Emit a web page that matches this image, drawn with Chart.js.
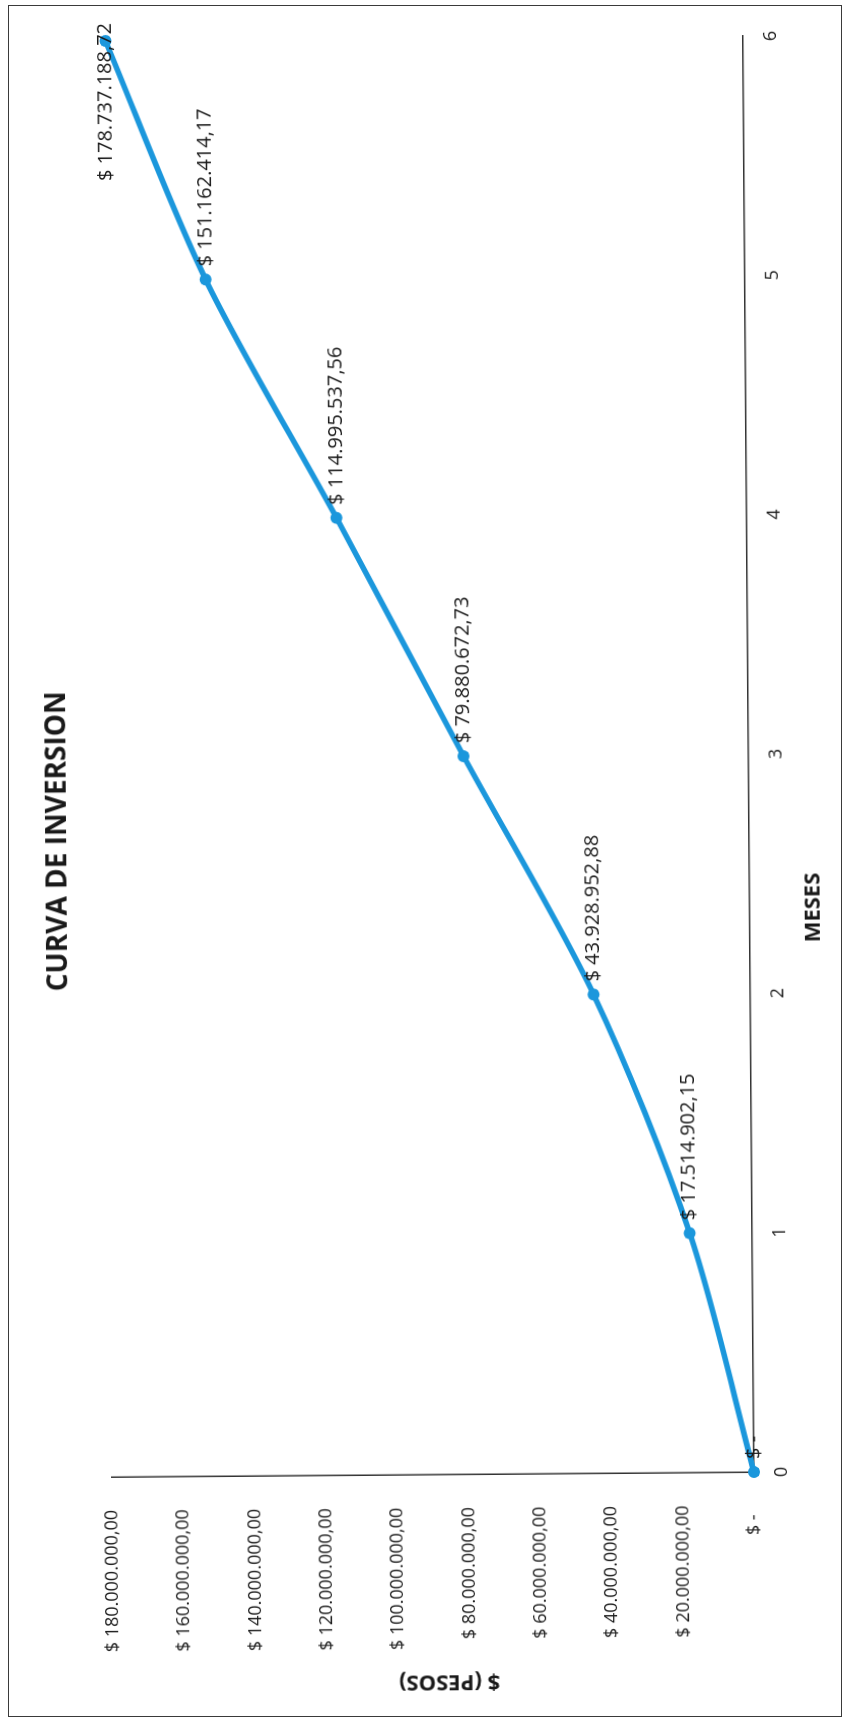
<!DOCTYPE html>
<html>
<head>
<meta charset="utf-8">
<script src="https://cdn.jsdelivr.net/npm/chart.js@4.4.1/dist/chart.umd.min.js"></script>
<style>
  html, body { margin: 0; padding: 0; background: #fff; }
  #page { position: relative; width: 846px; height: 1720px; overflow: hidden; }
  #marco { position: absolute; left: 8px; top: 5px; width: 834px; height: 1712px; border: 1.5px solid #3a3a3a; box-sizing: border-box; }
  /* the scan is turned a bit, so the whole chart is tilted too */
  #tilt { position: absolute; left: 0; top: 0; width: 846px; height: 1720px; transform-origin: 754px 1472px; transform: rotate(-0.44deg); }
  /* chart is drawn landscape and turned to read bottom-to-top */
  #giro { position: absolute; left: 0; top: 0; width: 1720px; height: 846px; transform-origin: 0 0; transform: translateY(1720px) rotate(-90deg); }
</style>
</head>
<body>
<div id="page">
  <div id="marco"></div>
  <div id="tilt">
    <div id="giro">
      <canvas id="grafica" width="1720" height="846"></canvas>
    </div>
  </div>
</div>
<script>
const titulo = 'CURVA DE INVERSION';
const tituloX = 'MESES';
const tituloY = '$ (PESOS)';
const meses = [0, 1, 2, 3, 4, 5, 6];
const valores = [0, 17514902.15, 43928952.88, 79880672.73, 114995537.56, 151162414.17, 178737188.72];
const ejeYMax = 180000000;
const ejeYPaso = 20000000;

const azul = '#1b97dc';
const texto = '#1a1a1a';

// 178737188.72 -> "$ 178.737.188,72"
function pesos(v) {
    if (v === 0) return '$ -';
    const [ent, dec] = v.toFixed(2).split('.');
    return '$ ' + ent.replace(/\B(?=(\d{3})+(?!\d))/g, '.') + ',' + dec;
}

// data labels + titles, placed like the excel sheet
const textos = {
    id: 'textos',
    afterDatasetsDraw(chart) {
        const ctx = chart.ctx;
        const puntos = chart.getDatasetMeta(0).data;
        ctx.save();
        ctx.fillStyle = texto;
        ctx.font = '20px "Open Sans"';
        ctx.textAlign = 'left';
        ctx.textBaseline = 'middle';
        puntos.forEach((p, i) => {
            const t = pesos(valores[i]);
            const w = ctx.measureText(t).width;
            let x = p.x + 13;
            if (x + w > 1702) x = 1702 - w;  // last one gets pushed back inside
            ctx.fillText(t, x, p.y);
        });
        ctx.restore();
    },
    afterDraw(chart) {
        const ctx = chart.ctx;
        ctx.save();
        ctx.fillStyle = texto;
        ctx.textAlign = 'center';
        ctx.textBaseline = 'middle';

        ctx.font = 'bold 28px "Open Sans"';
        ctx.fillText(titulo, 884, 63);

        ctx.font = 'bold 22px "Open Sans"';
        ctx.fillText(tituloX, 812, 818);

        ctx.translate(41, 448);
        ctx.rotate(-Math.PI / 2);
        ctx.fillText(tituloY, 0, 0);
        ctx.restore();
    }
};

new Chart(document.getElementById('grafica'), {
    type: 'line',
    data: {
        datasets: [{
            data: meses.map((m, i) => ({ x: m, y: valores[i] })),
            borderColor: azul,
            backgroundColor: azul,
            borderWidth: 5.5,
            pointRadius: 6,
            pointBorderWidth: 0,
            tension: 0.3,
            fill: false,
            clip: false
        }]
    },
    options: {
        responsive: false,
        animation: false,
        layout: { padding: { top: 112, right: 36, bottom: 0, left: 0 } },
        plugins: {
            legend: { display: false },
            title: { display: false },
            tooltip: { enabled: false }
        },
        scales: {
            x: {
                type: 'linear',
                min: 0,
                max: 6,
                ticks: {
                    stepSize: 1,
                    padding: 17,
                    color: texto,
                    font: { family: 'Open Sans', size: 18 }
                },
                grid: { display: false, drawTicks: false },
                border: { display: true, color: '#333', width: 1.5 },
                afterFit: (s) => { s.height = 92; }
            },
            y: {
                min: 0,
                max: ejeYMax,
                ticks: {
                    stepSize: ejeYPaso,
                    padding: 33,
                    color: texto,
                    font: { family: 'Open Sans', size: 18 },
                    callback: (v) => v === 0 ? '$ -  ' : pesos(v)
                },
                grid: { display: false, drawTicks: false },
                border: { display: true, color: '#333', width: 1.5 },
                afterFit: (s) => { s.width = 248; }
            }
        }
    },
    plugins: [textos]
});
</script>
</body>
</html>
